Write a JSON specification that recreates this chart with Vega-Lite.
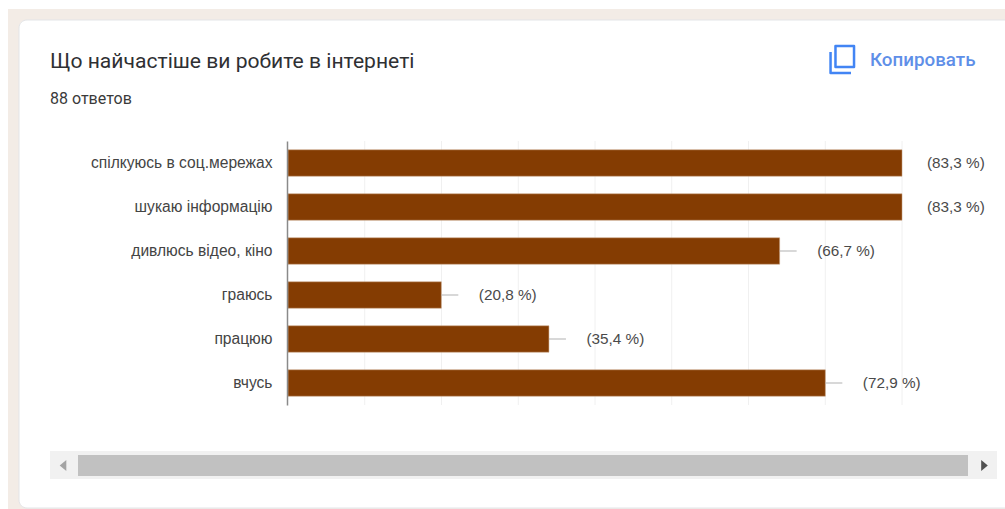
{
  "$schema": "https://vega.github.io/schema/vega-lite/v6.json",
  "autosize": {"type": "none"},
  "padding": {"left": 288, "top": 141, "right": 103, "bottom": 104},
  "width": 614,
  "height": 264,
  "background": "#ffffff",
  "view": {"stroke": null},
  "title": {
    "text": "Що найчастіше ви робите в інтернеті",
    "subtitle": "88 ответов",
    "anchor": "start",
    "frame": "group",
    "dx": -238,
    "dy": 98,
    "offset": 0,
    "font": "Roboto",
    "fontSize": 21.1,
    "fontWeight": "normal",
    "color": "#2f3033",
    "subtitleFont": "Roboto",
    "subtitleFontSize": 16,
    "subtitleColor": "#3a3a3a",
    "subtitlePadding": 19
  },
  "datasets": {
    "answers": [
      {"answer": "спілкуюсь в соц.мережах", "percent": 83.3, "label": "(83,3 %)"},
      {"answer": "шукаю інформацію", "percent": 83.3, "label": "(83,3 %)"},
      {"answer": "дивлюсь відео, кіно", "percent": 66.7, "label": "(66,7 %)"},
      {"answer": "граюсь", "percent": 20.8, "label": "(20,8 %)"},
      {"answer": "працюю", "percent": 35.4, "label": "(35,4 %)"},
      {"answer": "вчусь", "percent": 72.9, "label": "(72,9 %)"}
    ],
    "gridlines": [
      {"percent": 10.41}, {"percent": 20.82}, {"percent": 31.24}, {"percent": 41.65},
      {"percent": 52.06}, {"percent": 62.47}, {"percent": 72.89}, {"percent": 83.3}
    ]
  },
  "data": {"name": "answers"},
  "encoding": {
    "y": {
      "field": "answer",
      "type": "nominal",
      "sort": null,
      "scale": {"paddingInner": 0.4, "paddingOuter": 0.2},
      "axis": {
        "title": null,
        "zindex": 1,
        "ticks": false,
        "offset": 1,
        "labelFont": "Liberation Sans",
        "labelFontSize": 15.6,
        "labelColor": "#444444",
        "labelPadding": 15,
        "labelLimit": 260,
        "domainColor": "#8a8a8a",
        "domainWidth": 1.5
      }
    }
  },
  "layer": [
    {
      "description": "Page backdrop behind the card",
      "data": {"values": [{"part": "page"}]},
      "mark": {"type": "rect", "color": "#f3ece6"},
      "encoding": {"y": {"value": -132}, "y2": {"value": 368}, "x": {"value": -280}, "x2": {"value": 730}}
    },
    {
      "description": "White answer card",
      "data": {"values": [{"part": "card"}]},
      "mark": {"type": "rect", "fill": "#ffffff", "stroke": "#e3e5e8", "strokeWidth": 1, "cornerRadius": 8},
      "encoding": {"y": {"value": -121}, "y2": {"value": 367}, "x": {"value": -269}, "x2": {"value": 740}}
    },
    {
      "description": "Scrollbar track",
      "data": {"values": [{"part": "track"}]},
      "mark": {"type": "rect", "fill": "#f1f1f1"},
      "encoding": {"y": {"value": 310}, "y2": {"value": 338}, "x": {"value": -238}, "x2": {"value": 709}}
    },
    {
      "description": "Scrollbar thumb",
      "data": {"values": [{"part": "thumb"}]},
      "mark": {"type": "rect", "fill": "#c1c1c1"},
      "encoding": {"y": {"value": 314}, "y2": {"value": 335}, "x": {"value": -210}, "x2": {"value": 680}}
    },
    {
      "description": "Scrollbar left arrow",
      "data": {"values": [{"part": "arrow-left"}]},
      "mark": {"type": "point", "shape": "M.6 -1V1L-.6 0Z", "filled": true, "fill": "#a3a3a3", "opacity": 1, "size": 121},
      "encoding": {"y": {"value": 324.5}, "x": {"value": -225}}
    },
    {
      "description": "Scrollbar right arrow",
      "data": {"values": [{"part": "arrow-right"}]},
      "mark": {"type": "point", "shape": "M-.6 -1V1L.6 0Z", "filled": true, "fill": "#505050", "opacity": 1, "size": 121},
      "encoding": {"y": {"value": 324.5}, "x": {"value": 696.5}}
    },
    {
      "description": "Copy icon",
      "data": {"values": [{"part": "copy-icon"}]},
      "mark": {"type": "point", "shape": "M-.45 -.93H.83V.52H-.45Z M-.79 -.52V.93H.62", "filled": false, "stroke": "#4285f4", "strokeWidth": 2.5, "strokeJoin": "round", "opacity": 1, "size": 841},
      "encoding": {"y": {"value": -81.5}, "x": {"value": 554}}
    },
    {
      "description": "Copy action",
      "data": {"values": [{"part": "copy-label"}]},
      "mark": {"type": "text", "text": "Копировать", "align": "left", "baseline": "middle", "font": "Roboto", "fontSize": 18.8, "fontWeight": 500, "color": "#5f8fe8"},
      "encoding": {"y": {"value": -81}, "x": {"value": 582}}
    },
    {
      "description": "Vertical gridlines behind the bars",
      "data": {"name": "gridlines"},
      "mark": {"type": "rule", "color": "#f0f0f0", "strokeWidth": 1},
      "encoding": {"y": {"value": 0}, "y2": {"value": 264}, "x": {"field": "percent", "type": "quantitative", "scale": {"domain": [0, 83.3], "nice": false}, "axis": null}}
    },
    {
      "mark": {"type": "bar", "color": "#843c02", "stroke": "#c9a382", "strokeWidth": 0.5},
      "encoding": {"x": {"field": "percent", "type": "quantitative", "axis": null}}
    },
    {
      "description": "Leader from bar end to its label",
      "transform": [{"filter": "datum.percent < 83"}],
      "mark": {"type": "tick", "orient": "horizontal", "color": "#b0b0b0", "size": 17, "thickness": 1, "xOffset": 8.5, "opacity": 1},
      "encoding": {"x": {"field": "percent", "type": "quantitative"}}
    },
    {
      "transform": [{"filter": "datum.percent < 83"}],
      "mark": {"type": "text", "align": "left", "dx": 37.5, "font": "Liberation Sans", "fontSize": 15.3, "color": "#4a4a4a"},
      "encoding": {"x": {"field": "percent", "type": "quantitative"}, "text": {"field": "label"}}
    },
    {
      "transform": [{"filter": "datum.percent >= 83"}],
      "mark": {"type": "text", "align": "left", "dx": 25, "font": "Liberation Sans", "fontSize": 15.3, "color": "#4a4a4a"},
      "encoding": {"x": {"field": "percent", "type": "quantitative"}, "text": {"field": "label"}}
    }
  ]
}
